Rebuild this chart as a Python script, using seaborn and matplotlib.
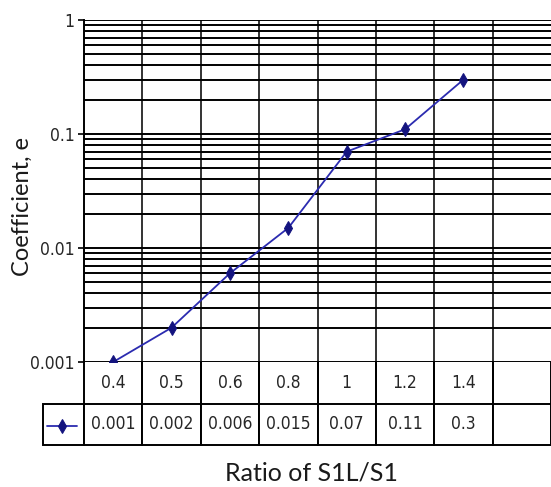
import matplotlib
matplotlib.use("Agg")
import matplotlib.pyplot as plt
from matplotlib.ticker import LogLocator, FixedLocator, NullFormatter
from matplotlib import font_manager
import seaborn as sns
import pandas as pd

# values
ratios = ["0.4", "0.5", "0.6", "0.8", "1", "1.2", "1.4", ""]
coef = [0.001, 0.002, 0.006, 0.015, 0.07, 0.11, 0.3]
coef_labels = ["0.001", "0.002", "0.006", "0.015", "0.07", "0.11", "0.3", ""]
ytick_vals = [0.001, 0.01, 0.1, 1]
ytick_labels = ["0.001", "0.01", "0.1", "1"]

df = pd.DataFrame({"pos": range(len(coef)), "coef": coef})

sns.set_style("white")
plt.rcParams["font.family"] = ["DejaVu Sans"]
plt.rcParams["font.stretch"] = "condensed"
narrow = font_manager.FontProperties(family="DejaVu Sans", stretch="condensed", size=12.5)

fig = plt.figure(figsize=(5.51, 4.87), dpi=100)
W, H = 551, 487
left, right, top, bottom = 84, 551, 20, 362
ax = fig.add_axes([left / W, (H - bottom) / H, (right - left) / W, (bottom - top) / H])

sns.lineplot(data=df, x="pos", y="coef", ax=ax, color="#2b2bb0", linewidth=1.3,
             marker="d", markersize=7, markerfacecolor="#14147f",
             markeredgecolor="#14147f")

ax.set_yscale("log")
ax.set_ylim(0.001, 1)
ax.set_xlim(-0.5, len(ratios) - 0.5)

ax.yaxis.set_major_locator(FixedLocator(ytick_vals))
ax.set_yticklabels(ytick_labels, fontproperties=narrow)
ax.yaxis.set_minor_locator(LogLocator(base=10, subs=range(2, 10)))
ax.yaxis.set_minor_formatter(NullFormatter())
ax.tick_params(axis="y", which="major", direction="out", length=4, width=1.2,
               color="black", left=True, pad=3)
ax.tick_params(axis="y", which="minor", length=0)

ax.set_xticks([])
ax.xaxis.set_minor_locator(FixedLocator([i + 0.5 for i in range(len(ratios) - 1)]))
ax.tick_params(axis="x", which="minor", length=0)

ax.grid(True, axis="y", which="both", color="black", linewidth=1.4)
ax.grid(True, axis="x", which="minor", color="#333333", linewidth=1.4)

for s in ["right", "bottom", "top"]:
    ax.spines[s].set_visible(False)
ax.spines["left"].set_color("black")
ax.spines["left"].set_linewidth(1.4)

ax.set_xlabel("")
ax.set_ylabel("")
fig.text(22 / W, 1 - 207 / H, "Coefficient, e", family=["Lato", "DejaVu Sans"],
         fontsize=17, rotation=90, ha="center", va="center", stretch="normal",
         color="#1a1a1a")

# data table under the plot
tbl_left, tbl_bottom = 43, 445
ax_w, ax_h = right - left, bottom - top
col_w = [left - tbl_left] + [(right - left) / len(ratios)] * len(ratios)
tot = sum(col_w)
cells = [[""] + ratios, [""] + coef_labels]
tbl = ax.table(cellText=cells, colWidths=[c / tot for c in col_w],
               cellLoc="center",
               bbox=[(tbl_left - left) / ax_w, -(tbl_bottom - bottom) / ax_h,
                     tot / ax_w, (tbl_bottom - bottom) / ax_h])
tbl.auto_set_font_size(False)
for (r, c), cell in tbl.get_celld().items():
    cell.set_linewidth(1.4)
    cell.set_edgecolor("black")
    cell.get_text().set_fontproperties(narrow)
    if r == 0 and c == 0:
        cell.visible_edges = ""
    elif r == 0:
        cell.visible_edges = "LR"

line = ax.lines[0]
ax.legend(handles=[line], labels=[" "], loc="center",
          bbox_to_anchor=((63 - left) / ax_w, -(426 - bottom) / ax_h),
          frameon=False, handlelength=3.6, handletextpad=0, fontsize=6,
          borderpad=0)

fig.text(311 / W, 1 - 473 / H, "Ratio of S1L/S1", family=["Lato", "DejaVu Sans"],
         fontsize=18, ha="center", va="center", stretch="normal", color="#1a1a1a")

fig.savefig("out.png", dpi=100)
